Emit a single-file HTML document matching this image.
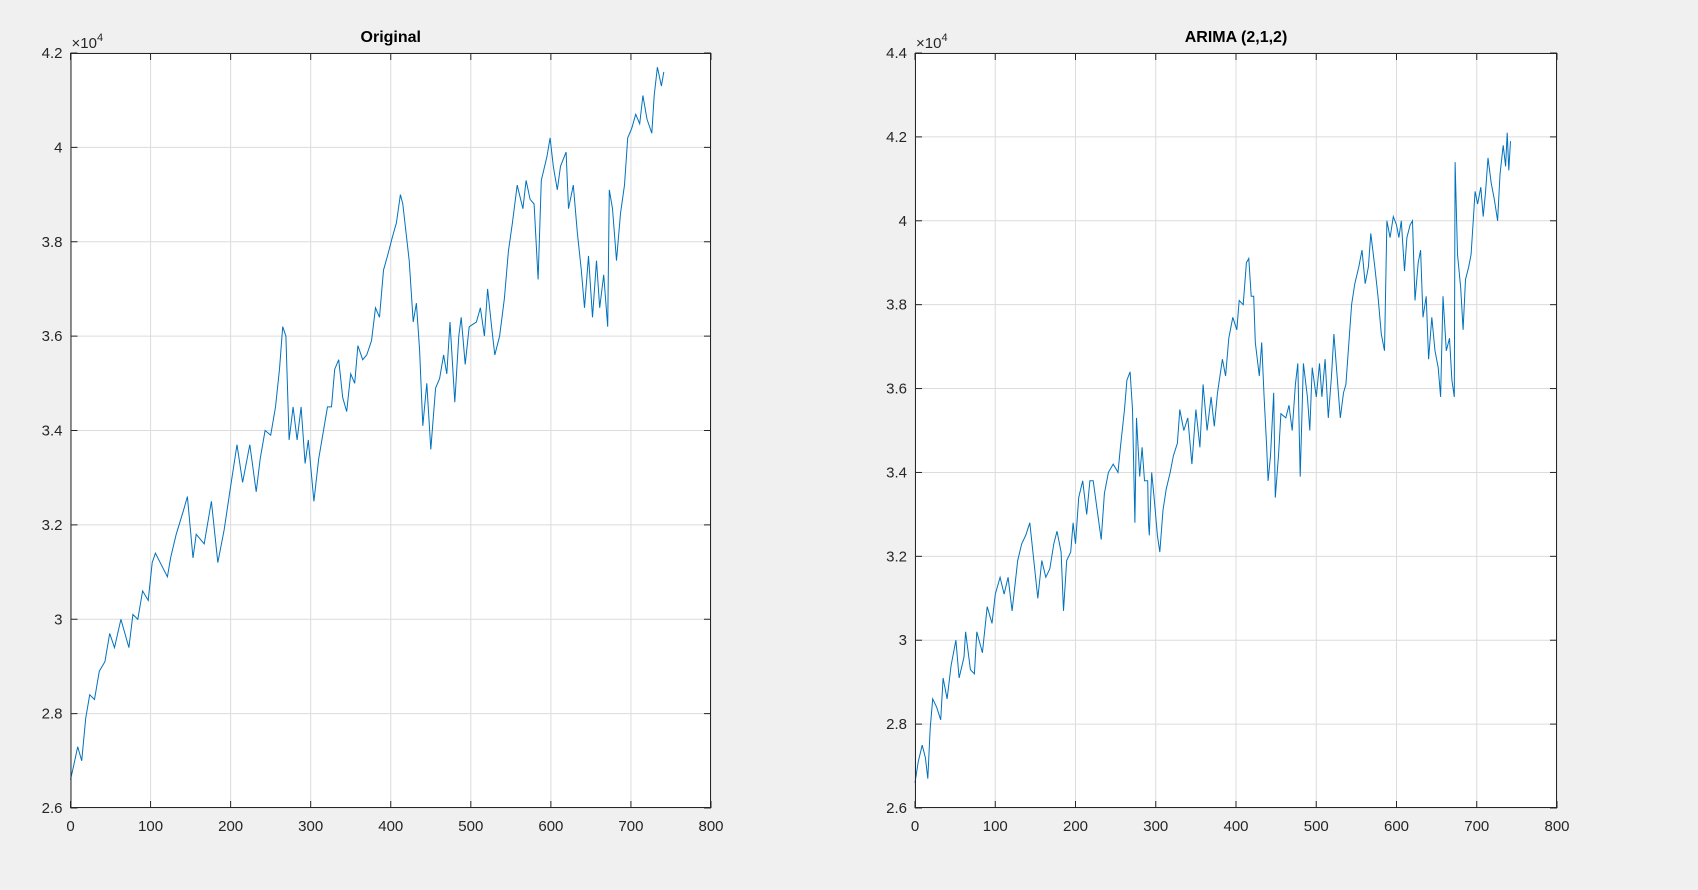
<!DOCTYPE html>
<html><head><meta charset="utf-8"><style>
html,body{margin:0;padding:0;background:#f0f0f0;}
svg{display:block;font-family:"Liberation Sans",Arial,sans-serif;}
</style></head><body>
<svg id="fig" width="1698" height="890" xmlns="http://www.w3.org/2000/svg"></svg>
<script>
const origX=[0,4,9,14,19,24,30,36,43,49,55,63,73,78,84,90,97,102,106,115,121,125,132,141,146,153,157,167,176,184,192,199,208,215,224,232,237,243,250,256,261,265,269,273,278,283,288,293,297,304,310,316,321,326,330,335,340,345,350,355,359,365,370,376,381,386,391,396,402,407,412,415,419,423,428,432,436,440,445,450,456,461,466,470,474,480,485,488,493,498,507,512,517,521,526,530,536,542,547,552,558,565,569,574,579,584,588,595,599,603,608,612,619,622,628,633,638,642,647,652,657,661,666,671,673,677,682,687,692,696,701,706,711,715,720,726,729,733,738,741];
const origY=[2.66,2.69,2.73,2.70,2.79,2.84,2.83,2.89,2.91,2.97,2.94,3.00,2.94,3.01,3.00,3.06,3.04,3.12,3.14,3.11,3.09,3.13,3.18,3.23,3.26,3.13,3.18,3.16,3.25,3.12,3.19,3.27,3.37,3.29,3.37,3.27,3.34,3.40,3.39,3.45,3.53,3.62,3.60,3.38,3.45,3.38,3.45,3.33,3.38,3.25,3.34,3.40,3.45,3.45,3.53,3.55,3.47,3.44,3.52,3.50,3.58,3.55,3.56,3.59,3.66,3.64,3.74,3.77,3.81,3.84,3.90,3.88,3.82,3.76,3.63,3.67,3.57,3.41,3.50,3.36,3.49,3.51,3.56,3.52,3.63,3.46,3.60,3.64,3.54,3.62,3.63,3.66,3.60,3.70,3.62,3.56,3.60,3.68,3.78,3.84,3.92,3.87,3.93,3.89,3.88,3.72,3.93,3.98,4.02,3.96,3.91,3.96,3.99,3.87,3.92,3.82,3.74,3.66,3.77,3.64,3.76,3.66,3.73,3.62,3.91,3.87,3.76,3.86,3.92,4.02,4.04,4.07,4.05,4.11,4.06,4.03,4.11,4.17,4.13,4.16];
const arimaX=[0,4,9,13,16,19,22,27,32,35,40,45,51,55,61,63,69,74,77,84,90,96,100,106,111,116,121,128,133,138,143,148,153,158,163,168,173,177,182,185,189,194,197,200,204,209,214,218,222,227,232,236,241,247,253,256,261,264,268,271,274,276,280,283,286,290,291,292,295,298,302,305,309,313,318,322,327,330,335,340,345,350,355,359,364,369,373,377,383,387,391,396,401,404,409,413,416,419,422,424,429,432,435,438,440,443,447,449,453,456,462,466,470,474,477,480,484,489,492,495,500,504,507,511,515,519,522,526,530,534,537,540,544,548,553,557,561,565,568,573,577,581,585,588,592,596,600,603,606,610,613,617,620,623,627,630,633,637,640,644,648,652,655,658,662,666,669,672,673,676,680,683,686,690,693,698,701,705,708,711,714,718,722,726,729,733,736,738,740,742];
const arimaY=[2.66,2.71,2.75,2.72,2.67,2.79,2.86,2.84,2.81,2.91,2.86,2.94,3.00,2.91,2.96,3.02,2.93,2.92,3.02,2.97,3.08,3.04,3.11,3.15,3.11,3.15,3.07,3.19,3.23,3.25,3.28,3.19,3.10,3.19,3.15,3.17,3.23,3.26,3.21,3.07,3.19,3.21,3.28,3.23,3.34,3.38,3.30,3.38,3.38,3.31,3.24,3.35,3.40,3.42,3.40,3.46,3.55,3.62,3.64,3.55,3.28,3.53,3.39,3.46,3.38,3.38,3.28,3.25,3.40,3.34,3.25,3.21,3.31,3.36,3.40,3.44,3.47,3.55,3.50,3.53,3.42,3.55,3.46,3.61,3.50,3.58,3.51,3.59,3.67,3.63,3.72,3.77,3.74,3.81,3.80,3.90,3.91,3.82,3.82,3.71,3.63,3.71,3.58,3.47,3.38,3.44,3.59,3.34,3.44,3.54,3.53,3.56,3.50,3.61,3.66,3.39,3.66,3.58,3.50,3.65,3.58,3.66,3.58,3.67,3.53,3.63,3.73,3.63,3.53,3.59,3.61,3.69,3.80,3.85,3.89,3.93,3.85,3.89,3.97,3.89,3.82,3.73,3.69,4.00,3.96,4.01,3.99,3.96,4.00,3.88,3.96,3.99,4.00,3.81,3.90,3.93,3.77,3.82,3.67,3.77,3.69,3.65,3.58,3.82,3.69,3.72,3.62,3.58,4.14,3.92,3.84,3.74,3.86,3.89,3.92,4.07,4.04,4.08,4.01,4.07,4.15,4.09,4.05,4.00,4.11,4.18,4.13,4.21,4.12,4.19];
const xTicks=[0,100,200,300,400,500,600,700,800];
const origYTicks=[2.6,2.8,3,3.2,3.4,3.6,3.8,4,4.2];
const arimaYTicks=[2.6,2.8,3,3.2,3.4,3.6,3.8,4,4.2,4.4];

const NS="http://www.w3.org/2000/svg";
const fig=document.getElementById('fig');
function mk(tag,attrs,parent){const e=document.createElementNS(NS,tag);for(const k in attrs)e.setAttribute(k,attrs[k]);parent.appendChild(e);return e;}

function panel(name,left,right,top,bottom,xmax,ymin,ymax,yTicks,xs,ys,title){
  const g=mk('g',{},fig);
  
  
  const sx=v=>left+(v/xmax)*(right-left);
  const sy=v=>bottom-(v-ymin)/(ymax-ymin)*(bottom-top);
  const bg=mk('rect',{x:left,y:top,width:right-left,height:bottom-top,fill:'#fff'},g);
  
  
  xTicks.forEach(t=>{
    const x=sx(t);
    const gl=mk('line',{x1:x,x2:x,y1:top,y2:bottom,stroke:'#dcdcdc','stroke-width':1},g);
    
    
    mk('line',{x1:x,x2:x,y1:bottom,y2:bottom-7,stroke:'#262626'},g);
    mk('line',{x1:x,x2:x,y1:top,y2:top+7,stroke:'#262626'},g);
    const tl=mk('text',{x:x,y:bottom+23,'text-anchor':'middle','font-size':15,fill:'#262626'},g);
    tl.textContent=String(t);
    
    
  });
  yTicks.forEach(t=>{
    const y=sy(t);
    const gl=mk('line',{x1:left,x2:right,y1:y,y2:y,stroke:'#dcdcdc','stroke-width':1},g);
    
    
    mk('line',{x1:left,x2:left+7,y1:y,y2:y,stroke:'#262626'},g);
    mk('line',{x1:right,x2:right-7,y1:y,y2:y,stroke:'#262626'},g);
    const tl=mk('text',{x:left-8,y:y+5,'text-anchor':'end','font-size':15,fill:'#262626'},g);
    tl.textContent=String(t);
    
    
  });
  const pts=xs.map((x,i)=>sx(x).toFixed(1)+','+sy(ys[i]).toFixed(1)).join(' ');
  const line=mk('polyline',{points:pts,fill:'none',stroke:'#0072bd','stroke-width':1},g);
  
  
  const box=mk('rect',{x:left+0.5,y:top+0.5,width:right-left-1,height:bottom-top-1,fill:'none',stroke:'#262626','stroke-width':1},g);
  
  
  const ti=mk('text',{x:(left+right)/2,y:top-11,'text-anchor':'middle','font-size':16,'font-weight':'bold',fill:'#000'},g);
  ti.textContent=title;
  
  
  const ex=mk('text',{x:left+1,y:top-5,'font-size':15,fill:'#262626'},g);
  ex.innerHTML='×10<tspan font-size="11" dy="-7">4</tspan>';
  
  
}
panel('original',70.5,711,53,808,800,2.6,4.2,origYTicks,origX,origY,'Original');
panel('arima',915,1557,53,808,800,2.6,4.4,arimaYTicks,arimaX,arimaY,'ARIMA (2,1,2)');
</script>
</body></html>
